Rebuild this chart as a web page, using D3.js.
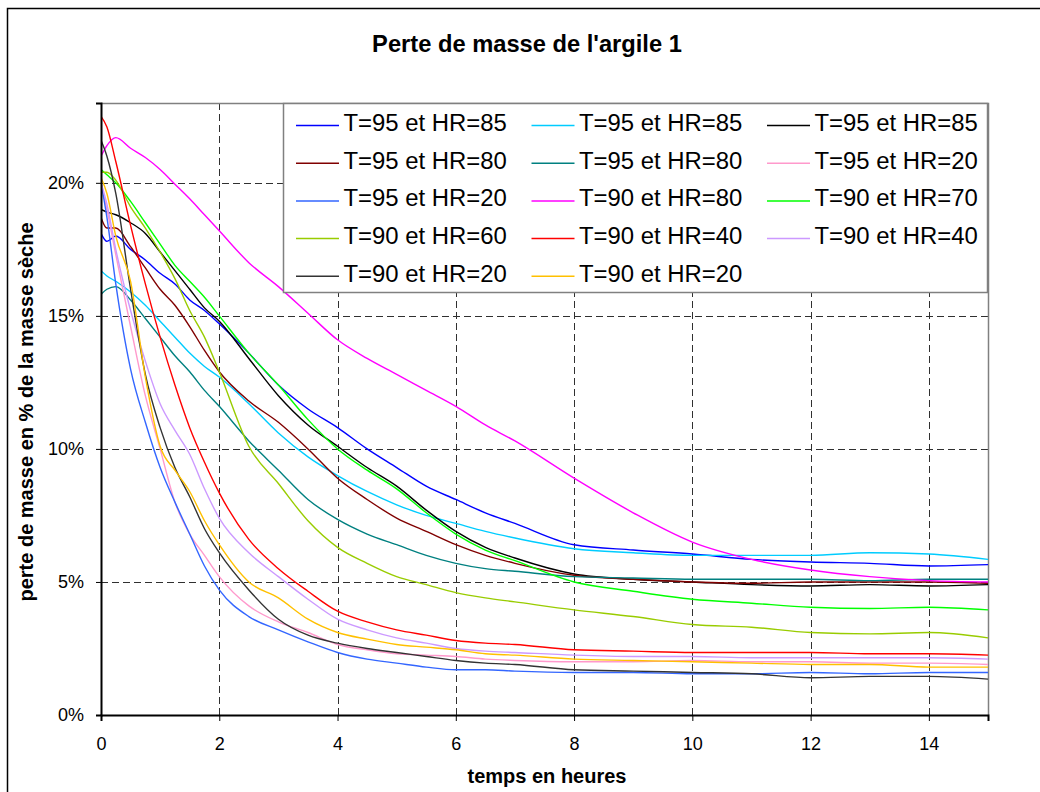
<!DOCTYPE html>
<html>
<head>
<meta charset="utf-8">
<script src="https://cdn.jsdelivr.net/npm/d3@7"></script>
<style>
  html, body { margin: 0; padding: 0; background: #fff; }
  svg { display: block; font-family: "Liberation Sans", Arial, sans-serif; }
</style>
</head>
<body>
<div id="chart"></div>
<script>
// time axis (hours) shared by every series
const hours = [0, 0.1, 0.25, 0.5, 0.75, 1, 1.25, 1.5, 1.75, 2, 2.5, 3, 3.5, 4, 4.5, 5, 5.5, 6, 6.5, 7, 8, 9, 10, 11, 12, 13, 14, 15];

// mass loss in % of dry mass
const t95hr85a = [18.1, 17.8, 18.0, 17.5, 17.1, 16.6, 16.2, 15.6, 15.2, 14.7, 13.6, 12.4, 11.5, 10.8, 10.0, 9.3, 8.6, 8.1, 7.6, 7.2, 6.4, 6.2, 6.05, 5.85, 5.75, 5.7, 5.6, 5.65];
const t95hr85b = [16.7, 16.5, 16.3, 15.9, 15.4, 14.8, 14.2, 13.6, 13.1, 12.7, 11.7, 10.6, 9.7, 9.0, 8.4, 7.9, 7.5, 7.2, 6.9, 6.65, 6.25, 6.1, 6.0, 6.0, 6.0, 6.1, 6.05, 5.85];
const t95hr85c = [19.0, 18.9, 18.8, 18.5, 18.1, 17.4, 16.7, 16.0, 15.3, 14.8, 13.4, 12.0, 10.9, 10.1, 9.3, 8.6, 7.7, 6.9, 6.3, 5.9, 5.3, 5.1, 5.0, 4.9, 4.85, 4.9, 4.85, 4.9];
const t95hr80a = [18.7, 18.3, 18.3, 17.6, 16.8, 16.0, 15.4, 14.6, 13.7, 12.9, 11.8, 11.0, 10.0, 8.9, 8.1, 7.4, 6.9, 6.4, 6.0, 5.7, 5.25, 5.1, 5.0, 4.95, 5.0, 5.0, 5.0, 4.95];
const t95hr80b = [15.8, 16.0, 16.1, 15.6, 14.9, 14.2, 13.5, 12.9, 12.2, 11.6, 10.3, 9.2, 8.1, 7.35, 6.8, 6.4, 6.0, 5.7, 5.5, 5.4, 5.2, 5.15, 5.1, 5.1, 5.1, 5.05, 5.1, 5.1];
const t95hr20a = [20.0, 19.0, 17.3, 14.6, 12.0, 10.0, 8.0, 6.8, 6.0, 5.2, 4.1, 3.5, 3.1, 2.65, 2.45, 2.3, 2.25, 2.2, 2.1, 2.05, 2.0, 2.0, 2.05, 2.0, 2.0, 1.95, 1.95, 1.9];
const t95hr20b = [20.0, 18.7, 16.2, 13.0, 11.0, 9.3, 8.0, 6.8, 5.6, 4.7, 3.7, 3.2, 2.75, 2.35, 2.1, 1.95, 1.8, 1.7, 1.7, 1.65, 1.6, 1.6, 1.55, 1.55, 1.6, 1.55, 1.6, 1.6];
const t90hr80 = [21.0, 21.4, 21.7, 21.3, 20.95, 20.5, 19.95, 19.4, 18.8, 18.2, 17.0, 16.1, 15.1, 14.1, 13.4, 12.8, 12.2, 11.6, 10.9, 10.3, 8.9, 7.6, 6.5, 5.85, 5.45, 5.2, 5.05, 5.0];
const t90hr70 = [20.5, 20.3, 20.0, 19.3, 18.5, 17.7, 16.9, 16.3, 15.7, 15.0, 13.6, 12.4, 11.1, 10.0, 9.2, 8.5, 7.6, 6.8, 6.2, 5.8, 5.0, 4.65, 4.35, 4.2, 4.05, 4.0, 4.05, 3.95];
const t90hr60 = [20.4, 20.4, 20.1, 19.1, 18.3, 17.4, 16.4, 15.2, 14.2, 12.9, 10.1, 8.7, 7.3, 6.3, 5.7, 5.2, 4.9, 4.6, 4.4, 4.25, 3.95, 3.7, 3.4, 3.3, 3.1, 3.05, 3.1, 2.9];
const t90hr40a = [22.5, 22.1, 20.8, 18.4, 16.2, 14.2, 12.4, 10.8, 9.5, 8.35, 6.6, 5.5, 4.65, 3.9, 3.5, 3.2, 3.0, 2.8, 2.7, 2.65, 2.45, 2.4, 2.35, 2.35, 2.35, 2.3, 2.3, 2.25];
const t90hr40b = [20.0, 19.2, 17.5, 15.2, 13.3, 11.7, 10.7, 9.8, 8.5, 7.4, 6.1, 5.2, 4.35, 3.6, 3.2, 2.9, 2.7, 2.5, 2.4, 2.35, 2.25, 2.2, 2.2, 2.15, 2.15, 2.15, 2.15, 2.1];
const t90hr20a = [21.6, 21.0, 19.6, 16.0, 12.8, 10.8, 9.3, 8.2, 7.0, 6.1, 4.7, 3.6, 3.0, 2.7, 2.5, 2.35, 2.2, 2.05, 1.95, 1.9, 1.7, 1.65, 1.6, 1.55, 1.4, 1.45, 1.45, 1.35];
const t90hr20b = [20.2, 19.6, 18.0, 16.3, 12.7, 10.1, 9.2, 8.4, 7.3, 6.4, 5.0, 4.4, 3.6, 3.1, 2.85, 2.65, 2.55, 2.45, 2.3, 2.25, 2.1, 2.05, 2.0, 1.95, 1.9, 1.9, 1.8, 1.8];

const seriesLabels = [
  "T=95 et HR=85", "T=95 et HR=85", "T=95 et HR=85",
  "T=95 et HR=80", "T=95 et HR=80", "T=95 et HR=20",
  "T=95 et HR=20", "T=90 et HR=80", "T=90 et HR=70",
  "T=90 et HR=60", "T=90 et HR=40", "T=90 et HR=40",
  "T=90 et HR=20", "T=90 et HR=20"
];
const seriesValues = [
  t95hr85a, t95hr85b, t95hr85c,
  t95hr80a, t95hr80b, t95hr20a,
  t95hr20b, t90hr80, t90hr70,
  t90hr60, t90hr40a, t90hr40b,
  t90hr20a, t90hr20b
];
const seriesColors = [
  "#0000ff", "#00ccff", "#000000",
  "#800000", "#008080", "#ff99cc",
  "#3366ff", "#ff00ff", "#00ff00",
  "#99cc00", "#ff0000", "#cc99ff",
  "#333333", "#ffc000"
];
const yTicks = [0, 0.05, 0.10, 0.15, 0.20];
const xTicks = [0, 2, 4, 6, 8, 10, 12, 14];

const width = 1040, height = 792;
const margin = { left: 101, right: 52, top: 103, bottom: 77 };

const svg = d3.select("#chart").append("svg")
  .attr("width", width)
  .attr("height", height);

svg.append("rect").attr("width", width).attr("height", height).attr("fill", "#fff");

// outer chart frame (runs off the right and bottom edges)
svg.append("path")
  .attr("d", `M7.5,${height} V8.5 H${width}`)
  .attr("fill", "none")
  .attr("stroke", "#000")
  .attr("stroke-width", 1.5);

const x = d3.scaleLinear().domain([0, 15]).range([margin.left, width - margin.right]);
const y = d3.scaleLinear().domain([0, 0.23]).range([height - margin.bottom, margin.top]);

// dashed grid
const grid = svg.append("g")
  .attr("stroke", "#303030")
  .attr("stroke-width", 1)
  .attr("stroke-dasharray", "7,4");
grid.selectAll(".hg").data(yTicks.filter(d => d > 0)).enter().append("line")
  .attr("x1", x(0)).attr("x2", x(15))
  .attr("y1", d => Math.round(y(d)) + 0.5).attr("y2", d => Math.round(y(d)) + 0.5);
grid.selectAll(".vg").data(xTicks.filter(d => d > 0)).enter().append("line")
  .attr("y1", y(0.23)).attr("y2", y(0))
  .attr("x1", d => Math.round(x(d)) + 0.5).attr("x2", d => Math.round(x(d)) + 0.5);

// plot border (top/right gray)
svg.append("path")
  .attr("d", `M${x(0)},${y(0.23) + 0.5} H${x(15) + 0.5} V${y(0)}`)
  .attr("fill", "none")
  .attr("stroke", "#808080")
  .attr("stroke-width", 1.5);

// curves
svg.append("clipPath").attr("id", "plotclip").append("rect")
  .attr("x", x(0)).attr("y", y(0.23))
  .attr("width", x(15) - x(0)).attr("height", y(0) - y(0.23));

const line = d3.line()
  .x((d, i) => x(hours[i]))
  .y(d => y(d / 100))
  .curve(d3.curveMonotoneX);

svg.append("g").attr("clip-path", "url(#plotclip)")
  .selectAll("path").data(seriesValues).enter().append("path")
  .attr("d", d => line(d))
  .attr("fill", "none")
  .attr("stroke", (d, i) => seriesColors[i])
  .attr("stroke-width", 1.4)
  .attr("stroke-linejoin", "round");

// axes
const yAxis = svg.append("g")
  .attr("transform", `translate(${x(0)},0)`)
  .call(d3.axisLeft(y).tickValues(yTicks).tickFormat(d3.format(".0%")).tickSize(5).tickPadding(12));
const xAxis = svg.append("g")
  .attr("transform", `translate(0,${y(0)})`)
  .call(d3.axisBottom(x).tickValues(xTicks).tickFormat(d3.format("d")).tickSize(6).tickPadding(16));

[yAxis, xAxis].forEach(ax => {
  ax.select(".domain").attr("stroke", "#000").attr("stroke-width", 2);
  ax.selectAll(".tick line").attr("stroke", "#000").attr("stroke-width", 1);
  ax.selectAll(".tick text")
    .attr("fill", "#000")
    .style("font-family", "'Liberation Sans', Arial, sans-serif")
    .style("font-size", "18px");
});

// legend
const legend = svg.append("g");
legend.append("rect")
  .attr("x", 283.5).attr("y", 103.5)
  .attr("width", 704).attr("height", 189)
  .attr("fill", "#fff")
  .attr("stroke", "#808080")
  .attr("stroke-width", 1.5);

const items = legend.selectAll(".item").data(seriesLabels).enter().append("g")
  .attr("transform", (d, i) => `translate(${296 + (i % 3) * 235.5},${131 + Math.floor(i / 3) * 37.7})`);
items.append("line")
  .attr("x1", 0).attr("x2", 43)
  .attr("y1", -5.5).attr("y2", -5.5)
  .attr("stroke", (d, i) => seriesColors[i])
  .attr("stroke-width", 1.5);
items.append("text")
  .attr("x", 47.5).attr("y", 0)
  .style("font-size", "23.9px")
  .attr("fill", "#000")
  .text(d => d);

// titles
svg.append("text")
  .attr("x", 527).attr("y", 52)
  .attr("text-anchor", "middle")
  .style("font-size", "23.7px").style("font-weight", "bold")
  .text("Perte de masse de l'argile 1");

svg.append("text")
  .attr("transform", "translate(33,412) rotate(-90)")
  .attr("text-anchor", "middle")
  .style("font-size", "20px").style("font-weight", "bold")
  .text("perte de masse en % de la masse sèche");

svg.append("text")
  .attr("x", 547).attr("y", 783)
  .attr("text-anchor", "middle")
  .style("font-size", "20px").style("font-weight", "bold")
  .text("temps en heures");
</script>
</body>
</html>
